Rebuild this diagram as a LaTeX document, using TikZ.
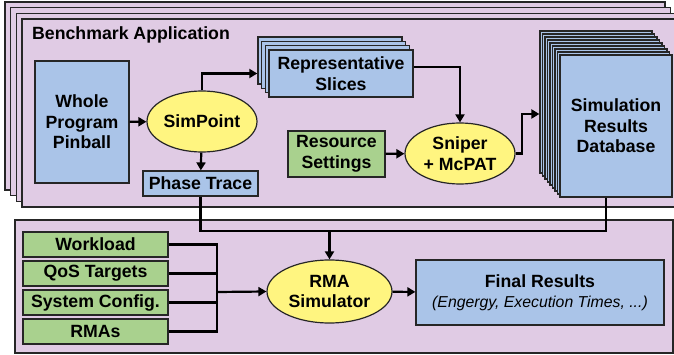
\documentclass[tikz,border=0pt]{standalone}
\usepackage{fontspec}
\setmainfont{Liberation Sans}
\usetikzlibrary{arrows.meta,shapes.geometric}

\definecolor{panelbg}{RGB}{224,203,228}
\definecolor{boxblue}{RGB}{170,196,232}
\definecolor{boxgreen}{RGB}{169,209,142}
\definecolor{ovalyellow}{RGB}{255,245,128}

\tikzset{
  panel/.style={draw=black!85,line width=1.4pt,fill=panelbg},
  txt/.style={font=\bfseries\fontsize{17.7}{20.5}\selectfont,align=center,inner sep=0pt},
  bluebox/.style={txt,draw=black!85,line width=1.2pt,fill=boxblue},
  greenbox/.style={txt,draw=black!85,line width=1.2pt,fill=boxgreen},
  oval/.style={txt,ellipse,draw=black!85,line width=1.2pt,fill=ovalyellow},
  conn/.style={line width=2.2pt,draw=black},
  arr/.style={conn,-{Triangle[length=8pt,width=9pt]}}
}

\begin{document}
\begin{tikzpicture}[x=1pt,y=-1pt]
  \useasboundingbox (0,0) rectangle (674,355);

  % benchmark application stack
  \foreach \i in {0,...,3}
    \draw[panel] (5+5.7*\i,2+5.7*\i) rectangle ++(660,188);
  \node [txt,anchor=west] (bench) at (32,35) {Benchmark Application};

  % rma panel
  \draw[panel] (15,220) rectangle (673,353);

  \coordinate (c_pinball) at (82,122);
  \node [bluebox,minimum width=94,minimum height=122] (pinball) at (c_pinball)
    {Whole\\Program\\Pinball};

  \coordinate (c_simpoint) at (202,121.5);
  \node [oval,minimum width=110,minimum height=61] (simpoint) at (c_simpoint) {SimPoint};

  \coordinate (c_phase) at (200.5,183.5);
  \node [bluebox,minimum width=115,minimum height=25] (phase) at (c_phase) {Phase Trace};

  % slices, back to front
  \foreach \i in {3,2,1}
    \node [bluebox,minimum width=144,minimum height=47] (slices\i)
      at (341-3.7*\i,73.5-4.3*\i) {};
  \node [bluebox,minimum width=144,minimum height=47] (slices) at (341,73.5)
    {Representative\\Slices};

  \coordinate (c_resource) at (336.5,154);
  \node [greenbox,minimum width=97,minimum height=46] (resource) at (c_resource)
    {Resource\\Settings};

  \coordinate (c_sniper) at (460,153.5);
  \node [oval,minimum width=110,minimum height=61] (sniper) at (c_sniper)
    {Sniper\\+ McPAT};

  % database, back to front
  \foreach \i in {8,7,...,1}
    \node [bluebox,minimum width=112,minimum height=142] (db\i)
      at (616-2.5*\i,126-3*\i) {};
  \node [bluebox,minimum width=112,minimum height=142] (db) at (616,126)
    {Simulation\\Results\\Database};

  % rma inputs
  \node [greenbox,minimum width=145,minimum height=25] (workload) at (95.5,244.5) {Workload};
  \node [greenbox,minimum width=145,minimum height=25] (qos) at (95.5,273.5) {QoS Targets};
  \node [greenbox,minimum width=145,minimum height=25] (sysconf) at (95.5,302.5) {System Config.};
  \node [greenbox,minimum width=145,minimum height=25] (rmas) at (95.5,331.5) {RMAs};

  \coordinate (c_rmasim) at (329.5,291.5);
  \node [oval,minimum width=125,minimum height=63] (rmasim) at (c_rmasim)
    {RMA\\Simulator};

  \coordinate (c_final) at (540,292.5);
  \node [bluebox,minimum width=248,minimum height=65] (final) at (c_final)
    {Final Results\\[-1pt]{\mdseries\itshape\fontsize{15.8}{18}\selectfont (Engergy, Execution Times, ...)}};

  % connectors
  \draw[arr] (pinball) -- (simpoint);
  \draw[arr] (simpoint.north) |- (slices.west -| slices3.west);
  \draw[arr] (simpoint) -- (phase);
  \draw[arr] ([yshift=6.5pt]slices.east) -| (sniper.north);
  \draw[arr] (resource) -- (sniper);
  \coordinate (jog) at (522,114);
  \draw[arr] (sniper.east) -| (jog) -- (jog -| db8.west);

  \coordinate (merge) at (329.5,231);
  \draw[conn] (phase.south) |- (merge);
  \draw[conn] ([xshift=-10pt]db.south) |- (merge);
  \draw[arr] (merge) -- (rmasim.north);

  \coordinate (bus) at (217,292);
  \draw[conn] (workload.east) -| (bus);
  \draw[conn] (qos.east) -| (bus);
  \draw[conn] (sysconf.east) -| (bus);
  \draw[conn] (rmas.east) -| (bus);
  \draw[arr] (bus) -- (rmasim.west);
  \draw[arr] (rmasim) -- (final);
\end{tikzpicture}
\end{document}
